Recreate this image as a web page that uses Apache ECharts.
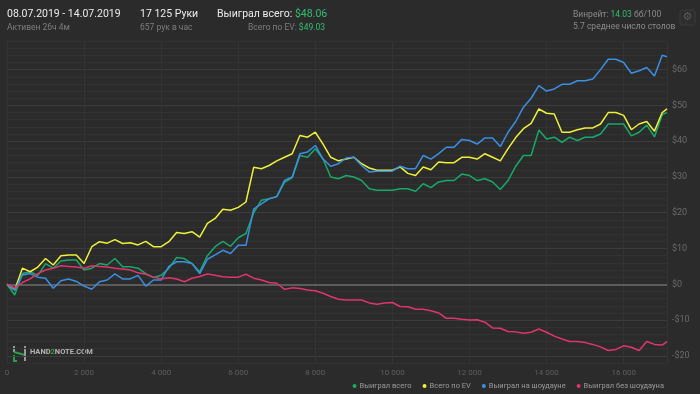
<!DOCTYPE html>
<html><head><meta charset="utf-8">
<script src="https://cdn.jsdelivr.net/npm/echarts@6/dist/echarts.min.js"></script>
<style>html,body{margin:0;padding:0;background:#2b2b2b;}#c{width:700px;height:394px;}</style>
</head><body><div id="c"></div>
<script>
const hands = [0,200,400,600,800,1000,1200,1400,1600,1800,2000,2200,2400,2600,2800,3000,3200,3400,3600,3800,4000,4200,4400,4600,4800,5000,5200,5400,5600,5800,6000,6200,6400,6600,6800,7000,7200,7400,7600,7800,8000,8200,8400,8600,8800,9000,9200,9400,9600,9800,10000,10200,10400,10600,10800,11000,11200,11400,11600,11800,12000,12200,12400,12600,12800,13000,13200,13400,13600,13800,14000,14200,14400,14600,14800,15000,15200,15400,15600,15800,16000,16200,16400,16600,16800,17000,17125];
const wonTotal = [0,-3,3,3.5,2.5,5.8,4.5,6.5,6.8,6.8,
 4,4.5,5.8,5.4,7.2,4.9,4.9,4.5,3,1.9,
 2.5,4.5,7.5,7.2,5.8,3.5,8,10.5,12,10.6,
 13,14.2,20,23.5,23.9,24.5,28.5,29.8,36,35.5,
 37.9,35,30,29.5,30.4,30,29,26.7,26.3,26.3,
 26.3,26.7,26.7,26,28.1,27,28.6,29,29,30.8,
 30.4,29,29.5,28.6,26.5,29,33,36,36,43.1,
 40.6,41.1,39.7,41.1,40.2,41.1,41.1,42,44.8,44.8,
 44.8,41.5,42.5,44.5,41.2,47.4,48.06];
const evTotal = [0,-1.6,4.5,3.5,4.8,7.2,5.4,8,8.2,8.2,
 5.8,10.5,11.9,11.5,12.5,11.4,11.6,11,12,10.5,
 10.5,11.9,14.5,14.2,14.7,13.2,17,18.4,21,20.7,
 21.5,23,32.7,32.3,33.2,34.5,35.5,36.5,41.6,41.1,
 42.5,39.2,35.5,34.5,35,35.5,33.7,32.5,31.9,31.9,
 31.9,32.8,31,30.4,32.8,32,34.2,34,34,35.5,
 35.5,35,36.5,35.5,34.5,37.9,41,43.5,45,49,
 47.8,47.6,42.5,42.5,43.2,43.7,43.7,44.8,48,48,
 47.2,43.2,44.8,45.5,42.8,48,49.03];
const wonShowdown = [0,-1.6,2.6,3,2,1.7,-1.1,1,1.5,0.8,
 -0.5,-1.4,0.7,1.2,2.9,1.5,1.5,2.5,-0.5,1.2,
 1.2,5,6.3,6.3,5.8,3,7,8.2,9.5,8.6,
 10.9,10.9,21,22.5,23.9,24.5,29,30,36.5,37,
 38.8,35,33,33.7,35.3,35.5,33.2,31.4,31.6,31.6,
 31.6,33,32.3,32.3,36,35,36.5,38.3,38.3,40.5,
 40.2,39.2,40.9,40.9,38.5,42.5,45.5,49.5,52,55.5,
 54,54.6,55.9,55.9,56.9,56.9,57.4,60,62.9,62.9,
 62,59,59.7,60.6,58.2,64,63.6];
const wonNoShowdown = [0,-1,0.5,1.5,3,4,4.5,5.2,5,4.8,
 4.5,5.2,5,4.8,4.5,4.3,4,3.2,2.8,2,
 1.5,1.8,1.5,0.7,1.7,2.2,2.9,2.5,2.1,2,
 2,2.8,1.7,1.2,0.5,0.3,-1.4,-1,-1.2,-1.6,
 -1.8,-2.5,-3.4,-4.2,-4.4,-4.4,-4.4,-5.2,-5.6,-5.2,
 -5.1,-6.2,-6.3,-7,-7,-7.4,-8,-9.5,-9.5,-9.8,
 -10,-9.9,-10.6,-12.2,-12.3,-13.2,-13.3,-13.7,-13.4,-12.5,
 -13.4,-14.5,-15.3,-16,-16,-16.3,-16.8,-17.5,-18.5,-18.2,
 -17.2,-17.6,-18.5,-16,-16.8,-17,-16];
const seriesNames = ['Выиграл всего','Всего по EV','Выиграл на шоудауне','Выиграл без шоудауна'];
const seriesColors = ['#17a86b','#eef03a','#3b8fe3','#e0356b'];
const seriesValues = [wonTotal, evTotal, wonShowdown, wonNoShowdown];

const chart = echarts.init(document.getElementById('c'), null, {renderer:'canvas'});
const FONT = 'Roboto, "Noto Sans", sans-serif';
function fmtHands(v){ if (v % 2000 !== 0) return ''; if (v < 1000) return String(v); const t = Math.floor(v/1000), r = v % 1000; return t + ' ' + String(r).padStart(3,'0'); }
function fmtMoney(v){ if (v % 10 !== 0) return ''; return v < 0 ? '-$' + Math.abs(v) : '$' + v; }
const minorC = '#323232', majorC = '#3c3c3c';
const option = {
  backgroundColor: '#2b2b2b',
  animation: false,
  textStyle: {fontFamily: FONT},
  grid: {left: 7, right: 33, top: 41, bottom: 31, containLabel: false},
  xAxis: {
    type: 'value', min: 0, max: 17125, interval: 2000,
    axisLine: {show: false}, axisTick: {show: false},
    axisLabel: {color: '#5f5f5f', fontSize: 8, margin: 6, formatter: fmtHands, showMaxLabel: false},
    splitLine: {show: true, lineStyle: {color: '#333333', width: 1}}
  },
  yAxis: {
    type: 'value', position: 'right', min: -22, max: 68, interval: 2,
    axisLine: {show: false}, axisTick: {show: false},
    axisLabel: {color: '#6a6a6a', fontSize: 9, margin: 5, formatter: fmtMoney},
    splitLine: {show: true, lineStyle: {color: [minorC, majorC, minorC, minorC, minorC], width: 1}}
  },
  legend: {
    right: 31, bottom: -1, itemWidth: 4, itemHeight: 4, itemGap: 11, icon: 'circle',
    textStyle: {color: '#9a9a9a', fontSize: 7.5, fontFamily: FONT, padding: [0,0,0,-2]},
    data: seriesNames
  },
  series: seriesNames.map((n, i) => ({
    name: n, type: 'line', showSymbol: false, symbol: 'none',
    data: hands.map((h, j) => [h, seriesValues[i][j]]),
    lineStyle: {color: seriesColors[i], width: 1.5},
    itemStyle: {color: seriesColors[i]},
    z: 3 + i,
    markLine: i === 0 ? {silent: true, symbol: 'none', label: {show: false}, lineStyle: {color: '#5c5c5c', width: 2, type: 'solid'}, data: [{yAxis: 0}], z: 1} : undefined
  })),
  graphic: [
    {type: 'text', left: 7, top: 9, style: {text: '08.07.2019 - 14.07.2019', fill: '#ececec', font: '10.5px ' + FONT}},
    {type: 'text', left: 7, top: 23, style: {text: 'Активен 26ч 4м', fill: '#7d7d7d', font: '8.5px ' + FONT}},
    {type: 'text', left: 140, top: 9, style: {text: '17 125 Руки', fill: '#ececec', font: '10.5px ' + FONT}},
    {type: 'text', left: 140, top: 23, style: {text: '657 рук в час', fill: '#7d7d7d', font: '8.5px ' + FONT}},
    {type: 'text', left: 217, top: 9, style: {text: '{w|Выиграл всего: }{g|$48.06}', rich: {w: {fill: '#ececec', fontSize: 10.5, fontFamily: FONT}, g: {fill: '#2fbf71', fontSize: 10.5, fontFamily: FONT}}}},
    {type: 'text', right: 375, top: 23, style: {text: '{w|Всего по EV: }{g|$49.03}', rich: {w: {fill: '#7d7d7d', fontSize: 8.5, fontFamily: FONT}, g: {fill: '#2fbf71', fontSize: 8.5, fontFamily: FONT}}}},
    {type: 'text', left: 573, top: 10, style: {text: '{w|Винрейт: }{g|14.03}{w| бб/100}', rich: {w: {fill: '#8a8a8a', fontSize: 8.5, fontFamily: FONT}, g: {fill: '#2fbf71', fontSize: 8.5, fontFamily: FONT}}}},
    {type: 'text', left: 573, top: 22, style: {text: '5.7 среднее число столов', fill: '#8a8a8a', font: '8.5px ' + FONT}},
    {type: 'rect', shape: {x: 680, y: 10, width: 15, height: 15, r: 2}, style: {fill: '#2e2e2e', stroke: '#3a3a3a', lineWidth: 1}},
    {type: 'text', x: 687.5, y: 17.5, style: {text: '⚙', fill: '#5a5a5a', font: '11px "DejaVu Sans"', align: 'center', verticalAlign: 'middle'}},
    {type: 'polyline', shape: {points: [[14, 346], [14, 352]]}, style: {stroke: '#9a9a9a', lineWidth: 2}},
    {type: 'polyline', shape: {points: [[14, 352], [25, 355]]}, style: {stroke: '#2a9d4a', lineWidth: 2}},
    {type: 'polyline', shape: {points: [[14, 355], [14, 361], [17, 361]]}, style: {stroke: '#2a9d4a', lineWidth: 2, fill: null}},
    {type: 'polyline', shape: {points: [[25, 346], [25, 361]]}, style: {stroke: '#9a9a9a', lineWidth: 2}},
    {type: 'text', left: 30, top: 348, style: {text: '{a|HAND}{b|2}{a|NOTE.COM}', rich: {a: {fill: '#b5b5b5', fontSize: 7.5, fontWeight: 'bold', fontFamily: FONT}, b: {fill: '#2a9d4a', fontSize: 7.5, fontWeight: 'bold', fontFamily: FONT}}}}
  ]
};
chart.setOption(option);
</script></body></html>
